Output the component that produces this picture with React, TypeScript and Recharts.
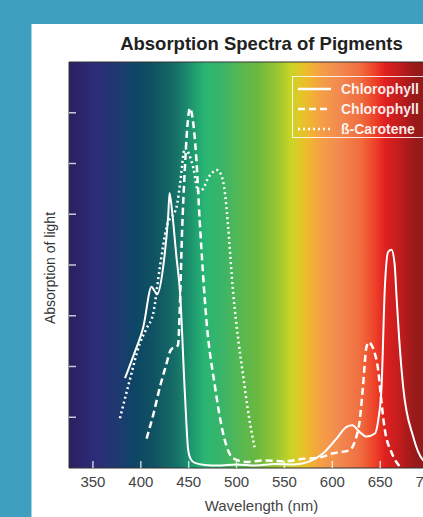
import { LineChart, Line, XAxis, YAxis, ReferenceArea } from 'recharts';

// wavelength (nm) -> relative absorption
const chlorophyllA = [
  { nm: 383.5, v: 1.77 }, { nm: 393, v: 2.25 }, { nm: 402.6, v: 2.78 }, { nm: 411.3, v: 3.57 },
  { nm: 414, v: 3.5 }, { nm: 417, v: 3.42 }, { nm: 423.4, v: 3.97 }, { nm: 428.7, v: 5.0 },
  { nm: 430, v: 5.42 }, { nm: 433, v: 5.0 }, { nm: 437, v: 4.2 }, { nm: 441, v: 3.45 },
  { nm: 446, v: 1.48 }, { nm: 449.5, v: 0.35 }, { nm: 452, v: 0.18 }, { nm: 456.5, v: 0.1 },
  { nm: 467, v: 0.06 }, { nm: 480, v: 0.05 }, { nm: 500, v: 0.07 }, { nm: 520, v: 0.05 },
  { nm: 540, v: 0.08 }, { nm: 560, v: 0.07 }, { nm: 575, v: 0.12 }, { nm: 590.5, v: 0.29 },
  { nm: 604.4, v: 0.58 }, { nm: 614.9, v: 0.81 }, { nm: 621, v: 0.84 }, { nm: 628, v: 0.72 },
  { nm: 635.7, v: 0.62 }, { nm: 644.4, v: 0.68 }, { nm: 648, v: 0.95 }, { nm: 651.4, v: 1.6 },
  { nm: 654.9, v: 3.57 }, { nm: 658.3, v: 4.26 }, { nm: 661.8, v: 4.3 }, { nm: 665, v: 4.03 },
  { nm: 667, v: 3.4 }, { nm: 670, v: 2.5 }, { nm: 674, v: 1.6 }, { nm: 684.4, v: 0.62 },
  { nm: 694.5, v: 0.16 }, { nm: 705, v: 0.05 }, { nm: 720, v: 0.02 },
];

const chlorophyllB = [
  { nm: 406, v: 0.58 }, { nm: 413, v: 1.05 }, { nm: 420, v: 1.6 }, { nm: 426, v: 2.0 },
  { nm: 431.5, v: 2.33 }, { nm: 438.8, v: 2.42 }, { nm: 441, v: 3.3 }, { nm: 443, v: 4.6 },
  { nm: 446, v: 5.9 }, { nm: 448.5, v: 6.7 }, { nm: 451.3, v: 7.09 }, { nm: 454, v: 6.9 },
  { nm: 457.8, v: 6.15 }, { nm: 461.5, v: 4.88 }, { nm: 468.5, v: 2.92 }, { nm: 477.4, v: 1.61 },
  { nm: 487, v: 0.6 }, { nm: 496.5, v: 0.19 }, { nm: 510, v: 0.12 }, { nm: 530, v: 0.15 },
  { nm: 550, v: 0.13 }, { nm: 570, v: 0.18 }, { nm: 585, v: 0.2 }, { nm: 601, v: 0.29 },
  { nm: 618, v: 0.35 }, { nm: 624, v: 0.55 }, { nm: 628.7, v: 0.95 }, { nm: 632, v: 1.6 },
  { nm: 635.7, v: 2.39 }, { nm: 638.5, v: 2.48 }, { nm: 641, v: 2.42 }, { nm: 644.5, v: 2.25 },
  { nm: 647.9, v: 1.93 }, { nm: 651, v: 1.35 }, { nm: 654.9, v: 0.75 }, { nm: 662, v: 0.3 },
  { nm: 670.5, v: 0.03 },
];

const betaCarotene = [
  { nm: 378.2, v: 0.98 }, { nm: 388, v: 1.7 }, { nm: 399.1, v: 2.46 }, { nm: 406, v: 2.75 },
  { nm: 413, v: 3.05 }, { nm: 420, v: 3.97 }, { nm: 427, v: 4.75 }, { nm: 437.4, v: 5.15 },
  { nm: 441, v: 5.6 }, { nm: 446, v: 6.3 }, { nm: 450, v: 6.2 }, { nm: 455, v: 5.9 },
  { nm: 460, v: 5.45 }, { nm: 465, v: 5.5 }, { nm: 470, v: 5.7 }, { nm: 479.5, v: 5.87 },
  { nm: 484, v: 5.77 }, { nm: 488, v: 5.4 }, { nm: 491, v: 4.8 }, { nm: 496.5, v: 3.44 },
  { nm: 502, v: 2.5 }, { nm: 507, v: 1.8 }, { nm: 513, v: 1.0 }, { nm: 519, v: 0.39 },
];

const xTicks = [350, 400, 450, 500, 550, 600, 650, 700];
const yTicks = [1, 2, 3, 4, 5, 6, 7];

const legendItems = [
  { label: 'Chlorophyll a', dash: undefined },
  { label: 'Chlorophyll b', dash: '7 4' },
  { label: 'ß-Carotene', dash: '2 3' },
];

// visible spectrum across the plot (offset as fraction of 325–725 nm)
const spectrumStops = [
  { o: 0, c: '#29205e' },
  { o: 0.06, c: '#2e2a78' },
  { o: 0.13, c: '#1e3a70' },
  { o: 0.17, c: '#0d4565' },
  { o: 0.225, c: '#105362' },
  { o: 0.28, c: '#167068' },
  { o: 0.33, c: '#20a070' },
  { o: 0.355, c: '#2ab673' },
  { o: 0.4, c: '#3ab468' },
  { o: 0.45, c: '#58b850' },
  { o: 0.49, c: '#6ab840' },
  { o: 0.55, c: '#a0c830' },
  { o: 0.578, c: '#c8d428' },
  { o: 0.603, c: '#e2c828' },
  { o: 0.63, c: '#f0b530' },
  { o: 0.655, c: '#f5a045' },
  { o: 0.705, c: '#f28a50' },
  { o: 0.76, c: '#f06e40' },
  { o: 0.8, c: '#ee4028' },
  { o: 0.825, c: '#e02020' },
  { o: 0.865, c: '#c01c1c' },
  { o: 0.9, c: '#9a1a1a' },
  { o: 1, c: '#7a1818' },
];

const FONT = '"Liberation Sans", Arial, sans-serif';

const XTick = (props: any) => {
  const { x, y, payload } = props;
  return (
    <g>
      <line x1={x} x2={x} y1={y - 8} y2={y - 15} stroke="#fff" strokeOpacity={0.75} strokeWidth={1.5} />
      <text x={x} y={y} dy="0.71em" textAnchor="middle" fill="#444" fontSize={15} fontFamily={FONT}>
        {payload.value}
      </text>
    </g>
  );
};

const YTick = (props: any) => {
  const { x, y } = props;
  return <line x1={x} x2={x + 7} y1={y} y2={y} stroke="#fff" strokeOpacity={0.75} strokeWidth={1.5} />;
};

export default function App() {
  return (
    <div style={{ position: 'absolute', left: 0, top: 0, width: 423, height: 517, overflow: 'hidden', background: '#3f9fbe', fontFamily: FONT }}>
      <div style={{ position: 'absolute', left: 31, top: 24, width: 480, height: 520, background: '#fff', borderLeft: '1px solid #9fd3e6' }} />
      <div style={{ position: 'absolute', left: 0, top: 0 }}>
        <LineChart width={520} height={517} margin={{ top: 62, right: 68, left: 39, bottom: 19 }}>
          <defs>
            <linearGradient id="spectrum" x1="0" y1="0" x2="1" y2="0">
              {spectrumStops.map((s) => (
                <stop key={s.o} offset={s.o} stopColor={s.c} />
              ))}
            </linearGradient>
          </defs>
          <XAxis
            type="number"
            dataKey="nm"
            domain={[325, 725]}
            ticks={xTicks}
            height={30}
            axisLine={false}
            tickLine={false}
            tickSize={0}
            tickMargin={8}
            tick={<XTick />}
            allowDataOverflow
          />
          <YAxis
            type="number"
            dataKey="v"
            domain={[0, 8]}
            ticks={yTicks}
            width={30}
            axisLine={false}
            tickLine={false}
            tickSize={0}
            tickMargin={0}
            tick={<YTick />}
            allowDataOverflow
          />
          <ReferenceArea x1={325} x2={725} y1={0} y2={8} fill="url(#spectrum)" fillOpacity={1} stroke="#333" strokeWidth={1} />
          <Line data={betaCarotene} dataKey="v" type="monotone" stroke="#fff" strokeWidth={2.5} strokeDasharray="2 3" dot={false} isAnimationActive={false} />
          <Line data={chlorophyllB} dataKey="v" type="monotone" stroke="#fff" strokeWidth={2.5} strokeDasharray="7 4" dot={false} isAnimationActive={false} />
          <Line data={chlorophyllA} dataKey="v" type="monotone" stroke="#fff" strokeWidth={2} dot={false} isAnimationActive={false} />
        </LineChart>
      </div>
      <div style={{ position: 'absolute', left: 0, width: 523, top: 33, textAlign: 'center', fontWeight: 'bold', fontSize: 18.5, color: '#222' }}>
        Absorption Spectra of Pigments
      </div>
      <div style={{ position: 'absolute', left: 0, width: 523, top: 497, textAlign: 'center', fontSize: 15, color: '#444' }}>
        Wavelength (nm)
      </div>
      <div style={{ position: 'absolute', left: 50, top: 268, transform: 'translate(-50%, -50%) rotate(-90deg)', whiteSpace: 'nowrap', fontSize: 14, color: '#333' }}>
        Absorption of light
      </div>
      <div style={{ position: 'absolute', left: 292, top: 76, width: 150, height: 62, border: '1px solid rgba(255,255,255,0.85)', boxSizing: 'border-box' }}>
        {legendItems.map((it, i) => (
          <div key={it.label} style={{ position: 'absolute', left: 4, top: 4 + i * 20, height: 16, display: 'flex', alignItems: 'center', whiteSpace: 'nowrap' }}>
            <svg width={36} height={16}>
              <line x1={1} x2={34} y1={8} y2={8} stroke="#fff" strokeWidth={2.5} strokeDasharray={it.dash} />
            </svg>
            <span style={{ marginLeft: 8, color: 'rgba(255,255,255,0.92)', fontWeight: 'bold', fontSize: 14 }}>{it.label}</span>
          </div>
        ))}
      </div>
    </div>
  );
}
